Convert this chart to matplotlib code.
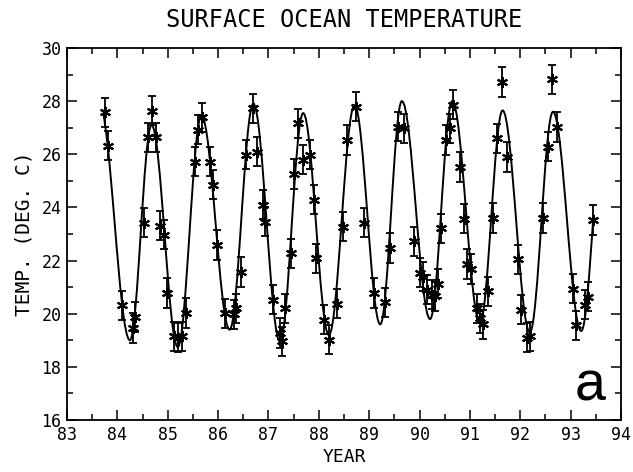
import matplotlib
matplotlib.use("Agg")
import matplotlib.pyplot as plt
from matplotlib.path import Path
from matplotlib.patches import PathPatch, Rectangle
from matplotlib.ticker import MultipleLocator

# Observed monthly sea surface temperature (year, deg C) and 1-sigma errors
year_obs = [83.75, 83.82, 84.10, 84.32, 84.36, 84.53, 84.60, 84.68, 84.77, 84.85,
            84.92, 84.98, 85.13, 85.21, 85.29, 85.37, 85.54, 85.61, 85.69, 85.84,
            85.90, 85.97, 86.13, 86.31, 86.35, 86.45, 86.56, 86.70, 86.77, 86.90,
            86.93, 87.09, 87.23, 87.26, 87.33, 87.44, 87.51, 87.58, 87.68, 87.82,
            87.91, 87.95, 88.10, 88.20, 88.37, 88.48, 88.57, 88.73, 88.90, 89.09,
            89.31, 89.41, 89.57, 89.69, 89.90, 90.00, 90.07, 90.14, 90.24, 90.30,
            90.36, 90.43, 90.53, 90.60, 90.66, 90.81, 90.89, 90.95, 91.02, 91.14,
            91.20, 91.26, 91.36, 91.45, 91.54, 91.63, 91.73, 91.96, 92.02, 92.13,
            92.19, 92.46, 92.55, 92.64, 92.72, 93.04, 93.10, 93.28, 93.35, 93.44]
temp_obs = [27.58, 26.33, 20.31, 19.46, 19.88, 23.43, 26.64, 27.64, 26.64, 23.31,
            22.97, 20.78, 19.15, 19.09, 19.15, 20.03, 25.72, 26.92, 27.39, 25.72,
            24.85, 22.59, 20.02, 19.98, 20.20, 21.57, 25.98, 27.73, 26.10, 24.10,
            23.47, 20.53, 19.27, 18.96, 20.21, 22.28, 25.26, 27.17, 25.79, 25.98,
            24.29, 22.09, 19.77, 19.02, 20.38, 23.28, 26.54, 27.79, 23.43, 20.78,
            20.43, 22.47, 27.04, 26.98, 22.72, 21.55, 21.40, 20.90, 20.71, 20.65,
            21.13, 23.22, 26.54, 26.98, 27.86, 25.52, 23.58, 21.87, 21.68, 20.21,
            19.82, 19.60, 20.84, 23.60, 26.60, 28.72, 25.90, 22.05, 20.15, 19.09,
            19.15, 23.60, 26.28, 28.82, 27.03, 20.94, 19.57, 20.34, 20.64, 23.53]
temp_err = [0.55] * len(year_obs)

# Seasonal fit: successive maxima / minima of the fitted curve
fit_year = [83.64, 84.25, 84.68, 85.20, 85.67, 86.23, 86.70, 87.23, 87.69, 88.20,
            88.71, 89.22, 89.65, 90.21, 90.65, 91.20, 91.65, 92.19, 92.65, 93.21, 93.68]
fit_temp = [27.90, 19.00, 27.10, 18.75, 27.45, 19.40, 27.90, 18.95, 27.55, 19.20,
            27.85, 19.60, 28.00, 19.80, 28.00, 19.65, 27.65, 19.30, 27.60, 19.35, 27.60]
fit_start, fit_end = 83.72, 93.44

plt.rcParams['font.family'] = ['DejaVu Sans Mono']

fig = plt.figure(figsize=(6.33, 4.72), dpi=100)
ax = fig.add_axes([0.1058, 0.1102, 0.8752, 0.7881])

# smooth curve: one cubic segment per half cycle, flat at each extremum
verts = [(fit_year[0], fit_temp[0])]
codes = [Path.MOVETO]
for i in range(1, len(fit_year)):
    x0, y0 = fit_year[i - 1], fit_temp[i - 1]
    x1, y1 = fit_year[i], fit_temp[i]
    dx = x1 - x0
    verts += [(x0 + 0.364 * dx, y0), (x1 - 0.364 * dx, y1), (x1, y1)]
    codes += [Path.CURVE4] * 3
curve = PathPatch(Path(verts, codes), fill=False, edgecolor='black', lw=1.4)
ax.add_patch(curve)
curve.set_clip_path(Rectangle((fit_start, 10), fit_end - fit_start, 30,
                              transform=ax.transData))

ax.errorbar(year_obs, temp_obs, yerr=temp_err, fmt='none', ecolor='black',
            elinewidth=1.3, capsize=3, capthick=1.3)
ax.plot(year_obs, temp_obs, ls='none', marker=(6, 2, 0), ms=8,
        mec='black', mew=1.5)

ax.set_xlim(83, 94)
ax.set_ylim(16, 30)
ax.xaxis.set_major_locator(MultipleLocator(1))
ax.xaxis.set_minor_locator(MultipleLocator(0.5))
ax.yaxis.set_major_locator(MultipleLocator(2))
ax.yaxis.set_minor_locator(MultipleLocator(1))
ax.tick_params(which='both', direction='in', top=True, right=True, width=1.1,
               labelsize=12, pad=4)
ax.tick_params(which='major', length=7)
ax.tick_params(which='minor', length=4)
for s in ax.spines.values():
    s.set_linewidth(1.3)

ax.set_title('SURFACE OCEAN TEMPERATURE', fontsize=17, pad=15)
ax.set_xlabel('YEAR', fontsize=13, labelpad=3)
ax.set_ylabel('TEMP. (DEG. C)', fontsize=14, labelpad=6)
ax.text(0.945, 0.09, 'a', transform=ax.transAxes, fontsize=40,
        family='Liberation Sans', ha='center', va='center')

fig.savefig('out.png', dpi=100)
